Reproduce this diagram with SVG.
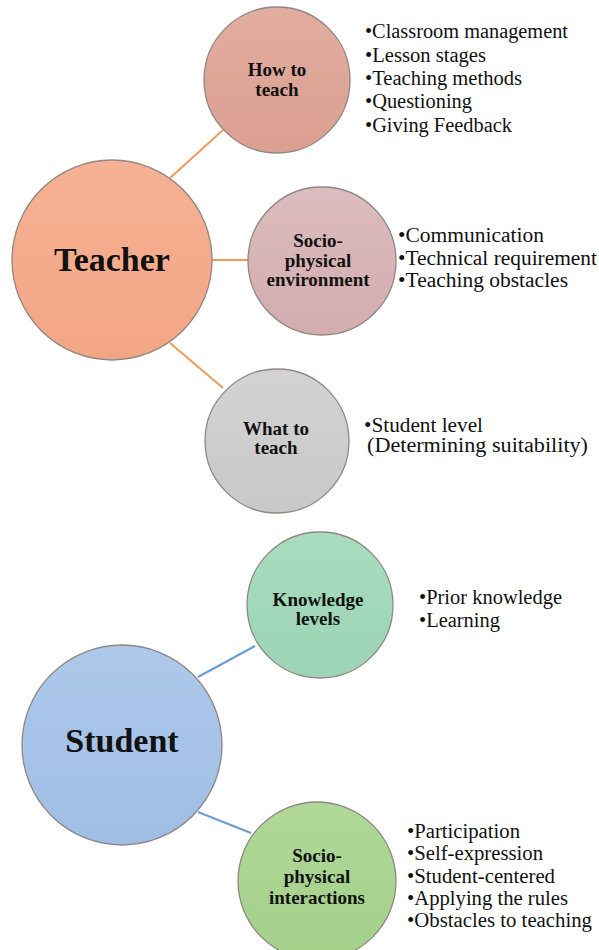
<svg xmlns="http://www.w3.org/2000/svg" width="599" height="950" viewBox="0 0 599 950">
  <style>
    .node { stroke: #8e8784; stroke-width: 1.3; }
    .hub { font-family: "Liberation Serif", "Times New Roman", serif; font-weight: bold; font-size: 34px; fill: #111; text-anchor: middle; }
    .lbl { font-family: "Liberation Serif", "Times New Roman", serif; font-weight: bold; font-size: 19px; fill: #111; text-anchor: middle; }
    .list { font-family: "Liberation Serif", "Times New Roman", serif; font-size: 20px; fill: #111; }
    .orange { stroke: #ef9a5e; stroke-width: 2; fill: none; }
    .blue { stroke: #6b9bd6; stroke-width: 2; fill: none; }
  </style>
  <defs>
    <linearGradient id="gTeacher" x1="0" y1="0" x2="0" y2="1">
      <stop offset="0" stop-color="#f6b193"/><stop offset="1" stop-color="#f3a684"/>
    </linearGradient>
    <linearGradient id="gHow" x1="0" y1="0" x2="0" y2="1">
      <stop offset="0" stop-color="#e2ad9f"/><stop offset="1" stop-color="#db9f90"/>
    </linearGradient>
    <linearGradient id="gEnv" x1="0" y1="0" x2="0" y2="1">
      <stop offset="0" stop-color="#dcbcbe"/><stop offset="1" stop-color="#d3acae"/>
    </linearGradient>
    <linearGradient id="gWhat" x1="0" y1="0" x2="0" y2="1">
      <stop offset="0" stop-color="#d3d3d3"/><stop offset="1" stop-color="#c8c8c8"/>
    </linearGradient>
    <linearGradient id="gStudent" x1="0" y1="0" x2="0" y2="1">
      <stop offset="0" stop-color="#adc8ea"/><stop offset="1" stop-color="#a0bee5"/>
    </linearGradient>
    <linearGradient id="gKnow" x1="0" y1="0" x2="0" y2="1">
      <stop offset="0" stop-color="#a9dcc0"/><stop offset="1" stop-color="#9cd4b5"/>
    </linearGradient>
    <linearGradient id="gInter" x1="0" y1="0" x2="0" y2="1">
      <stop offset="0" stop-color="#b0d898"/><stop offset="1" stop-color="#a3d089"/>
    </linearGradient>
  </defs>

  <rect width="599" height="950" fill="#ffffff"/>

  <!-- connectors -->
  <g id="connectors">
    <line class="orange" x1="170" y1="178" x2="223" y2="130"/>
    <line class="orange" x1="212" y1="260" x2="248" y2="260"/>
    <line class="orange" x1="170" y1="343" x2="223" y2="388"/>
    <line class="blue" x1="198" y1="677" x2="255" y2="646"/>
    <line class="blue" x1="198" y1="812" x2="251" y2="833"/>
  </g>

  <!-- teacher branch -->
  <g id="teacher">
    <circle class="node" cx="112" cy="260" r="100" fill="url(#gTeacher)"/>
    <text class="hub" x="112" y="271">Teacher</text>
  </g>

  <g id="how-to-teach">
    <circle class="node" cx="277" cy="80" r="73" fill="url(#gHow)"/>
    <text class="lbl" x="277" y="76">How to</text>
    <text class="lbl" x="277" y="96">teach</text>
    <text class="list" x="365" y="38" textLength="203" lengthAdjust="spacingAndGlyphs">•Classroom management</text>
    <text class="list" x="365" y="62" textLength="121" lengthAdjust="spacingAndGlyphs">•Lesson stages</text>
    <text class="list" x="365" y="85" textLength="157" lengthAdjust="spacingAndGlyphs">•Teaching methods</text>
    <text class="list" x="365" y="108" textLength="107" lengthAdjust="spacingAndGlyphs">•Questioning</text>
    <text class="list" x="365" y="132" textLength="147" lengthAdjust="spacingAndGlyphs">•Giving Feedback</text>
  </g>

  <g id="socio-physical-environment">
    <circle class="node" cx="322" cy="261" r="74" fill="url(#gEnv)"/>
    <text class="lbl" x="318" y="247">Socio-</text>
    <text class="lbl" x="318" y="267">physical</text>
    <text class="lbl" x="318" y="286">environment</text>
    <text class="list" x="398" y="242" textLength="146" lengthAdjust="spacingAndGlyphs">•Communication</text>
    <text class="list" x="398" y="265" textLength="199" lengthAdjust="spacingAndGlyphs">•Technical requirement</text>
    <text class="list" x="398" y="287" textLength="170" lengthAdjust="spacingAndGlyphs">•Teaching obstacles</text>
  </g>

  <g id="what-to-teach">
    <circle class="node" cx="277" cy="441" r="72" fill="url(#gWhat)"/>
    <text class="lbl" x="276" y="435">What to</text>
    <text class="lbl" x="276" y="454">teach</text>
    <text class="list" x="364" y="432" textLength="119" lengthAdjust="spacingAndGlyphs">•Student level</text>
    <text class="list" x="367" y="452" textLength="221" lengthAdjust="spacingAndGlyphs">(Determining suitability)</text>
  </g>

  <!-- student branch -->
  <g id="student">
    <circle class="node" cx="122" cy="745" r="100" fill="url(#gStudent)"/>
    <text class="hub" x="122" y="752">Student</text>
  </g>

  <g id="knowledge-levels">
    <circle class="node" cx="320" cy="605" r="73" fill="url(#gKnow)"/>
    <text class="lbl" x="318" y="606">Knowledge</text>
    <text class="lbl" x="318" y="625">levels</text>
    <text class="list" x="419" y="604" textLength="143" lengthAdjust="spacingAndGlyphs">•Prior knowledge</text>
    <text class="list" x="419" y="627" textLength="81" lengthAdjust="spacingAndGlyphs">•Learning</text>
  </g>

  <g id="socio-physical-interactions">
    <circle class="node" cx="317" cy="881" r="79" fill="url(#gInter)"/>
    <text class="lbl" x="317" y="862">Socio-</text>
    <text class="lbl" x="317" y="883">physical</text>
    <text class="lbl" x="317" y="904">interactions</text>
    <text class="list" x="407" y="838" textLength="113" lengthAdjust="spacingAndGlyphs">•Participation</text>
    <text class="list" x="407" y="860" textLength="136" lengthAdjust="spacingAndGlyphs">•Self-expression</text>
    <text class="list" x="407" y="883" textLength="148" lengthAdjust="spacingAndGlyphs">•Student-centered</text>
    <text class="list" x="407" y="905" textLength="161" lengthAdjust="spacingAndGlyphs">•Applying the rules</text>
    <text class="list" x="407" y="927" textLength="185" lengthAdjust="spacingAndGlyphs">•Obstacles to teaching</text>
  </g>
</svg>
